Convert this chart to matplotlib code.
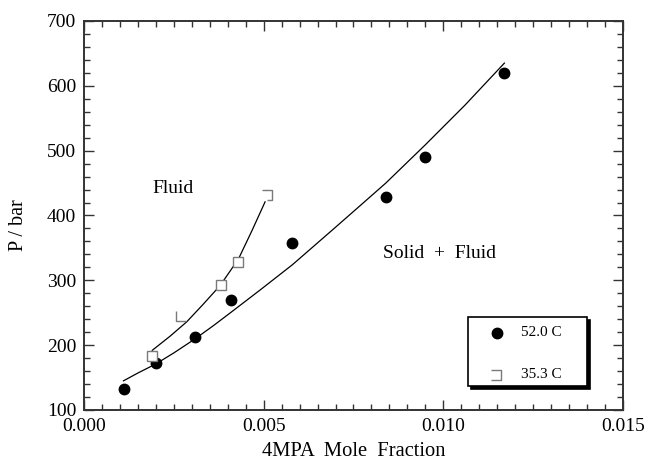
import matplotlib
matplotlib.use("Agg")
import matplotlib.pyplot as plt
from matplotlib.patches import Rectangle
from matplotlib.ticker import MultipleLocator
from matplotlib import transforms

plt.rcParams['font.family'] = ['Liberation Serif', 'DejaVu Serif']

# 52.0 C 数据点 (mole fraction, bar)
x52 = [0.0011, 0.0020, 0.0031, 0.0041, 0.0058, 0.0084, 0.0095, 0.0117]
p52 = [133, 173, 212, 269, 358, 428, 490, 619]
# 52.0 C 拟合曲线
fit52_x = [0.0011, 0.0015, 0.0020, 0.0025, 0.0031, 0.0036, 0.0041, 0.0049, 0.0058,
           0.0069, 0.0076, 0.0084, 0.0095, 0.0106, 0.0117]
fit52_p = [145, 157, 171, 188, 210, 230, 251, 285, 324, 377, 411, 450, 509, 570, 635]

# 35.3 C 数据点
x35 = [0.0019, 0.0027, 0.0038, 0.0043, 0.0051]
p35 = [183, 245, 292, 329, 431]
# 35.3 C 拟合曲线
fit35_x = [0.0019, 0.0024, 0.00286, 0.0033, 0.00379, 0.0043, 0.00467, 0.00504]
fit35_p = [192, 214, 236, 262, 292, 333, 376, 421]

legend_labels = ['52.0 C', '35.3 C']

# 方框 marker 有的只画了一部分
full_sq = 's'
l_sq = [(-1, 1), (-1, -1), (1, -1)]
top_sq = [(-1, 1), (1, 1), (1, -1), (0, -1)]
open_sq = [(-1, 1), (1, 1), (1, -1), (-1, -1)]
sq_shapes = [full_sq, l_sq, full_sq, full_sq, top_sq]

gray = '#7a7a7a'

fig = plt.figure(figsize=(6.5, 4.62), dpi=100)
ax = fig.add_axes([0.1292, 0.1126, 0.8292, 0.842])

ax.plot(fit52_x, fit52_p, color='black', lw=0.9, zorder=2)
ax.plot(fit35_x, fit35_p, color='black', lw=0.9, zorder=2)

ax.plot(x52, p52, 'o', color='black', ms=7.5, zorder=3)
for xv, pv, mk in zip(x35, p35, sq_shapes):
    ax.plot(xv, pv, marker=mk, ms=7.2, mfc='white' if mk == 's' else 'none',
            mec=gray, mew=1.0, ls='none', zorder=3)

ax.text(0.00248, 441, 'Fluid', fontsize=14, ha='center', va='center')
ax.text(0.0099, 341, 'Solid  +  Fluid', fontsize=14, ha='center', va='center')

ax.set_xlim(0, 0.015)
ax.set_ylim(100, 700)
ax.xaxis.set_major_locator(MultipleLocator(0.005))
ax.xaxis.set_minor_locator(MultipleLocator(0.0005))
ax.yaxis.set_major_locator(MultipleLocator(100))
ax.yaxis.set_minor_locator(MultipleLocator(20))
ax.xaxis.set_major_formatter(plt.FuncFormatter(lambda v, p: f'{v:.3f}'))

ax.tick_params(which='both', direction='in', top=True, right=True, color='#333333')
ax.tick_params(which='major', length=7, width=1.0, labelsize=14)
ax.tick_params(which='minor', length=4.5, width=1.0)
ax.tick_params(axis='x', pad=6)
ax.tick_params(axis='y', pad=5.5)
for s in ax.spines.values():
    s.set_linewidth(1.4)
    s.set_color('#333333')

ax.set_xlabel('4MPA  Mole  Fraction', fontsize=14.8, labelpad=5)
ax.set_ylabel('P / bar', fontsize=14.5)
ax.yaxis.set_label_coords(-0.104, 0.4756)

# 图例: 白框加黑色阴影
bx, by, bw, bh = 0.712, 0.0617, 0.2207, 0.1766
shadow_tr = transforms.offset_copy(ax.transAxes, fig=fig, x=3, y=-3, units='dots')
ax.add_patch(Rectangle((bx, by), bw, bh, transform=shadow_tr, facecolor='black',
                       edgecolor='black', lw=1.2, zorder=5))
ax.add_patch(Rectangle((bx, by), bw, bh, transform=ax.transAxes, facecolor='white',
                       edgecolor='black', lw=1.2, zorder=6))
ax.plot(0.7656, 0.198, 'o', color='black', ms=7.5, transform=ax.transAxes, zorder=7)
ax.plot(0.764, 0.090, marker=open_sq, ms=6.5, mfc='none', mec=gray, mew=1.0,
        transform=ax.transAxes, zorder=7)
ax.text(0.8108, 0.198, legend_labels[0], fontsize=11, va='center', transform=ax.transAxes, zorder=7)
ax.text(0.8108, 0.090, legend_labels[1], fontsize=11, va='center', transform=ax.transAxes, zorder=7)

fig.savefig('out.png', dpi=100)
